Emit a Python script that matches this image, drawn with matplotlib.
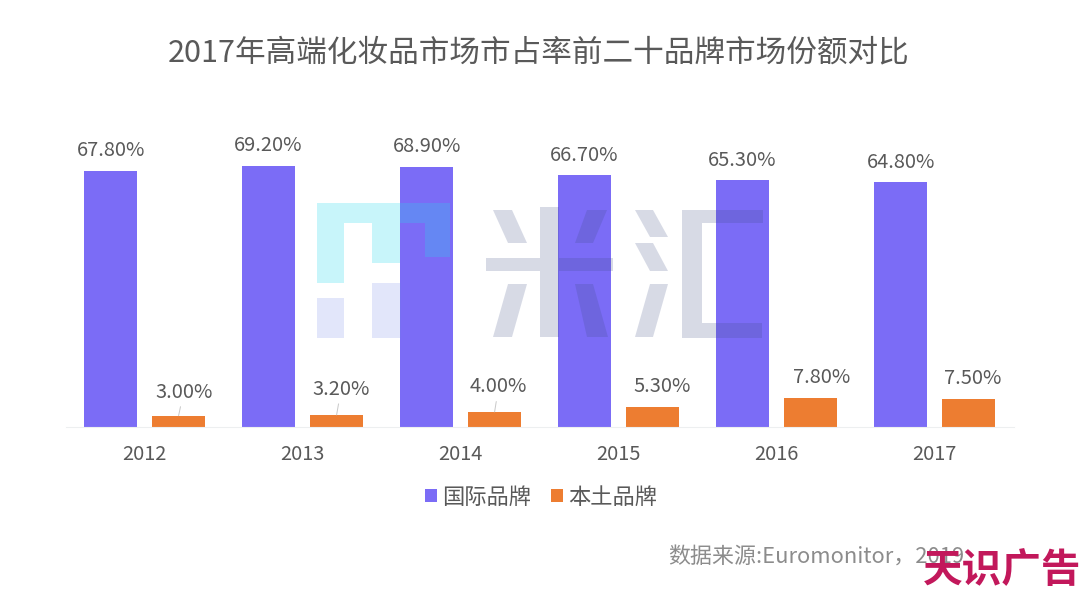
import matplotlib
matplotlib.use("Agg")
from matplotlib import pyplot as plt
from matplotlib.patches import Polygon
import numpy as np

plt.rcParams['font.family'] = ['Noto Sans CJK SC', 'DejaVu Sans']

years = ["2012", "2013", "2014", "2015", "2016", "2017"]
intl = [67.8, 69.2, 68.9, 66.7, 65.3, 64.8]
local = [3.0, 3.2, 4.0, 5.3, 7.8, 7.5]
intl_labels = ["67.80%", "69.20%", "68.90%", "66.70%", "65.30%", "64.80%"]
local_labels = ["3.00%", "3.20%", "4.00%", "5.30%", "7.80%", "7.50%"]

title = "2017年高端化妆品市场市占率前二十品牌市场份额对比"
source = "数据来源:Euromonitor，2019"
stamp = "天识广告"

W, H = 1080, 590
PURPLE = "#7B6CF6"
ORANGE = "#ED7D31"
TEXT = "#595959"

fig = plt.figure(figsize=(W / 100, H / 100), dpi=100, facecolor="white")
ax = fig.add_axes([65.6 / W, 1 - 427 / H, 948 / W, 300 / H])

x = np.arange(len(years))
offset = 34 / 158
width = 53 / 158
ax.bar(x - offset, intl, width, color=PURPLE, label="国际品牌")
ax.bar(x + offset, local, width, color=ORANGE, label="本土品牌")

ax.set_xlim(-0.5, 5.5)
ax.set_ylim(0, 300 / 3.776)
ax.set_xticks(x, years)
ax.set_yticks([])
for s in ["top", "left", "right"]:
    ax.spines[s].set_visible(False)
ax.spines["bottom"].set_color("#EDEFF0")
ax.tick_params(axis="x", length=0, pad=12.5, labelsize=14.4, labelcolor=TEXT)

for i in range(len(years)):
    ax.annotate(intl_labels[i], (x[i] - offset, intl[i]), xytext=(0, 14.5), textcoords="offset points",
                ha="center", va="center", fontsize=14.4, color=TEXT)

# the small labels were moved by hand in the original, first three keep a leader line
shift = [5, 4.5, 4, 10, 11.5, 4.5]
lift = [17, 18.5, 18, 14.5, 14.5, 14.5]
for i in range(len(years)):
    arrow = dict(arrowstyle="-", color="#C8C8C8", lw=0.7, shrinkA=1, shrinkB=0) if i < 3 else None
    ax.annotate(local_labels[i], (x[i] + offset, local[i]), xytext=(shift[i] * 0.72, lift[i]),
                textcoords="offset points", ha="center", va="center", fontsize=14.4,
                color=TEXT, arrowprops=arrow)

fig.legend(loc="center", bbox_to_anchor=(541 / W, 1 - 497 / H), ncol=2, frameon=False,
           fontsize=16, labelcolor=TEXT, handlelength=0.56, handleheight=0.56,
           handletextpad=0.22, columnspacing=0.9, borderpad=0)

fig.text(539 / W, 1 - 53 / H, title, ha="center", va="center", fontsize=22.05, color=TEXT)
fig.text(668 / W, 1 - 557 / H, source, ha="left", va="center", fontsize=15.8, color="#8C8C8C")

# overlay in pixel coordinates for the watermark and the stamp
over = fig.add_axes([0, 0, 1, 1], zorder=5)
over.set_xlim(0, W)
over.set_ylim(H, 0)
over.axis("off")

CYAN = dict(facecolor="#24D8EC", alpha=0.25, edgecolor="none")
PALE = dict(facecolor="#6F82E8", alpha=0.2, edgecolor="none")
GREY = dict(facecolor="#3A4A80", alpha=0.2, edgecolor="none")

logo_cyan = [(317, 283), (317, 203), (450, 203), (450, 257), (425, 257), (425, 223),
             (400, 223), (400, 263), (372, 263), (372, 223), (344, 223), (344, 283)]
logo_pale = [[(317, 298), (344, 298), (344, 338), (317, 338)],
             [(372, 283), (401, 283), (401, 338), (372, 338)]]
mi = [[(493, 210), (512, 210), (527, 243), (508, 243)],
      [(587, 210), (607, 210), (593, 243), (575, 243)],
      [(486, 258), (613, 258), (613, 271), (486, 271)],
      [(540, 207), (559, 207), (559, 258), (540, 258)],
      [(540, 271), (559, 271), (559, 337), (540, 337)],
      [(508, 284), (527, 284), (512, 337), (493, 337)],
      [(575, 284), (593, 284), (608, 337), (587, 337)]]
hui = [[(635, 210), (653, 210), (668, 237), (650, 237)],
       [(635, 243), (653, 243), (668, 271), (650, 271)],
       [(650, 284), (668, 284), (653, 337), (635, 337)],
       [(763, 210), (682, 210), (682, 338), (762, 338), (762, 323), (702, 323), (702, 223), (763, 223)]]

over.add_patch(Polygon(logo_cyan, **CYAN))
for p in logo_pale:
    over.add_patch(Polygon(p, **PALE))
for p in mi + hui:
    over.add_patch(Polygon(p, **GREY))

over.text(1002, 571, stamp, ha="center", va="center", fontsize=28.5, fontweight="black", color="#C2185B")

fig.savefig("out.png", dpi=100)
